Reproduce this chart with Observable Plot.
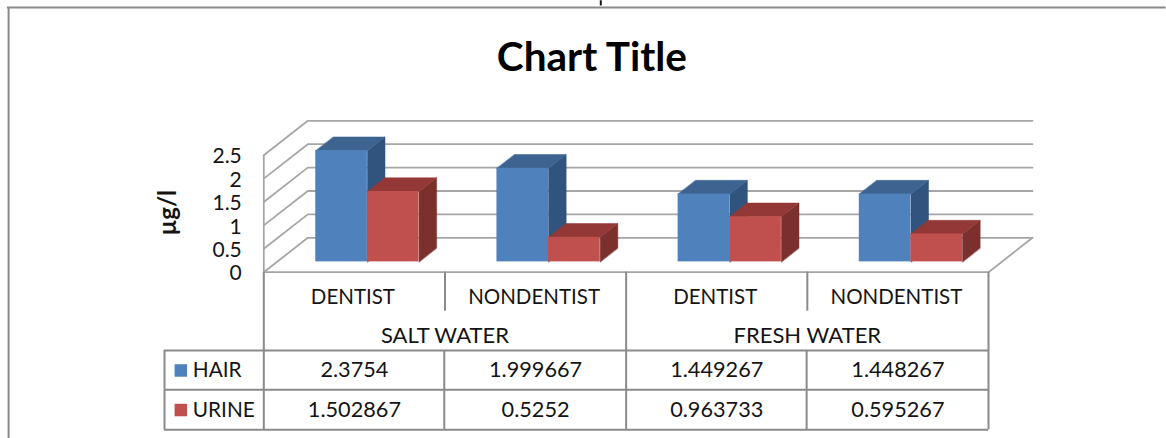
<!DOCTYPE html>
<html>
<head>
<meta charset="utf-8">
<script src="https://cdn.jsdelivr.net/npm/d3@7"></script>
<script src="https://cdn.jsdelivr.net/npm/@observablehq/plot@0.6"></script>
<style>html,body{margin:0;padding:0;background:#fff;overflow:hidden}svg{display:block}</style>
</head>
<body>
<div id="chart"></div>
<script>
const categories = ["DENTIST", "NONDENTIST", "DENTIST", "NONDENTIST"];
const groups = ["SALT WATER", "FRESH WATER"];
const series = ["HAIR", "URINE"];
const hair = [2.3754, 1.999667, 1.449267, 1.448267];
const urine = [1.502867, 0.5252, 0.963733, 0.595267];
const hairLabels = ["2.3754", "1.999667", "1.449267", "1.448267"];
const urineLabels = ["1.502867", "0.5252", "0.963733", "0.595267"];
const yTicks = [0, 0.5, 1, 1.5, 2, 2.5];

const font = "Lato, Carlito, sans-serif";
const line = "#8a8a8a", grid = "#a6a6a6", ink = "#141414";
const shades = {
  HAIR: {front: "#4f81bd", side: "#31547e", top: "#3d6491"},
  URINE: {front: "#c0504d", side: "#7c302e", top: "#933836"}
};

// Oblique projection of the 3D box, in data units per unit of depth
const depthX = 0.2428, depthY = 0.735;
const px = (x, d) => x + d * depthX, py = (v, d) => v + d * depthY;
const barGap = 0.214, barW = 0.285, d0 = 0.3, d1 = 0.7;

// Wall and floor lines
const wall = yTicks.flatMap((v) => [
  {k: v, x: px(0, 0), y: py(v, 0)},
  {k: v, x: px(0, 1), y: py(v, 1)},
  {k: v, x: px(4, 1), y: py(v, 1)}
]);
const floorEdge = [
  {x: px(0, 0), y: 0}, {x: px(4, 0), y: 0}, {x: px(4, 1), y: py(0, 1)}
];

// Bars as faces
const bars = [
  ...hair.map((v, i) => ({s: "HAIR", i, v, x0: i + barGap})),
  ...urine.map((v, i) => ({s: "URINE", i, v, x0: i + barGap + barW}))
];
const facePoly = (b, face) => {
  const x1 = b.x0, x2 = b.x0 + barW;
  const pts = face === "side"
    ? [[x2, 0, d0], [x2, b.v, d0], [x2, b.v, d1], [x2, 0, d1]]
    : [[x1, b.v, d0], [x2, b.v, d0], [x2, b.v, d1], [x1, b.v, d1]];
  return pts.map(([x, v, d]) => ({k: `${b.s}${b.i}${face}`, face, s: b.s, x: px(x, d), y: py(v, d)}));
};
const barMarks = (name) => {
  const sub = bars.filter((b) => b.s === name);
  const c = shades[name];
  return [
    Plot.line(sub.flatMap((b) => facePoly(b, "side")), {x: "x", y: "y", z: "k", fill: c.side, stroke: c.side, strokeWidth: 0.5, curve: "linear-closed"}),
    Plot.line(sub.flatMap((b) => facePoly(b, "top")), {x: "x", y: "y", z: "k", fill: c.top, stroke: c.top, strokeWidth: 0.5, curve: "linear-closed"}),
    Plot.rect(sub, {x1: (b) => px(b.x0, d0), x2: (b) => px(b.x0 + barW, d0), y1: () => py(0, d0), y2: (b) => py(b.v, d0), fill: c.front})
  ];
};

// Data table layout, in data units below the axis
const tableLeft = -0.548, rowTier = -0.833, rowHead = -1.673, rowHair = -2.513, rowEnd = -3.368;
const catY = -0.53, groupY = -1.365, hairY = -2.1, urineY = -2.945;
const swatchX = -0.458, labelX = -0.392;
const textBase = {fontFamily: font, fill: ink, lineAnchor: "middle"};

document.getElementById("chart").append(Plot.plot({
  width: 1166, height: 438,
  marginLeft: 263.3, marginRight: 178, marginTop: 154.7, marginBottom: 166.3,
  x: {domain: [0, 4], axis: null},
  y: {domain: [0, 2.5], axis: null},
  style: {background: "#fff", overflow: "visible", fontFamily: font},
  marks: [
    // outer chart frame (cut by the picture at right and bottom)
    Plot.ruleY([5.656], {x1: -1.415, x2: 4.98, stroke: line, strokeWidth: 2}),
    Plot.ruleX([-1.4086], {y1: 5.656, y2: -3.553, stroke: line, strokeWidth: 2}),
    Plot.ruleX([1.86], {y1: 5.8, y2: 5.69, stroke: "#111", strokeWidth: 2}),
    Plot.line(wall, {x: "x", y: "y", z: "k", stroke: grid, strokeWidth: 1.8}),
    Plot.ruleX([0], {y1: 0, y2: 2.5, stroke: grid, strokeWidth: 1.8}),
    Plot.line(floorEdge, {x: "x", y: "y", stroke: grid, strokeWidth: 1.8}),
    ...barMarks("HAIR"),
    ...barMarks("URINE"),
    Plot.axisY({ticks: yTicks, tickSize: 0, tickPadding: 22, tickFormat: (d) => String(d), fontSize: 21, label: null, fontFamily: font, fill: ink, dy: 1.5}),
    Plot.text(["µg/l"], {x: -0.526, y: 1.27, rotate: -90, fontSize: 24, fontWeight: "bold", ...textBase}),
    Plot.text(["Chart Title"], {x: 1.811, y: 4.58, fontSize: 40.5, fontWeight: "bold", ...textBase, fill: "#000"}),
    // data table
    Plot.ruleX([0, 2, 4], {y1: 0, y2: rowEnd, stroke: line, strokeWidth: 2}),
    Plot.ruleX([1, 3], {y1: 0, y2: rowTier, stroke: line, strokeWidth: 2}),
    Plot.ruleX([1, 3], {y1: rowHead, y2: rowEnd, dx: -0.7, stroke: line, strokeWidth: 2}),
    Plot.ruleX([tableLeft], {y1: rowHead, y2: rowEnd, stroke: line, strokeWidth: 2}),
    Plot.ruleY([rowHead, rowHair, rowEnd], {x1: tableLeft, x2: 4, stroke: line, strokeWidth: 2}),
    Plot.text(categories, {x: (d, i) => i + 0.5, y: catY, dx: -1.5, fontSize: 20.5, ...textBase}),
    Plot.text(groups, {x: (d, i) => 2 * i + 1, y: groupY, fontSize: 22, ...textBase}),
    Plot.text(hairLabels, {x: (d, i) => i + 0.5, y: hairY, fontSize: 21.7, ...textBase}),
    Plot.text(urineLabels, {x: (d, i) => i + 0.5, y: urineY, fontSize: 21.7, ...textBase}),
    Plot.dot(series, {x: swatchX, y: (d, i) => (i ? urineY : hairY), symbol: "square", r: 7.05, fill: (d) => shades[d].front, stroke: "none"}),
    Plot.text(series, {x: labelX, y: (d, i) => (i ? urineY : hairY), fontSize: 20.8, textAnchor: "start", ...textBase})
  ]
}));
</script>
</body>
</html>
